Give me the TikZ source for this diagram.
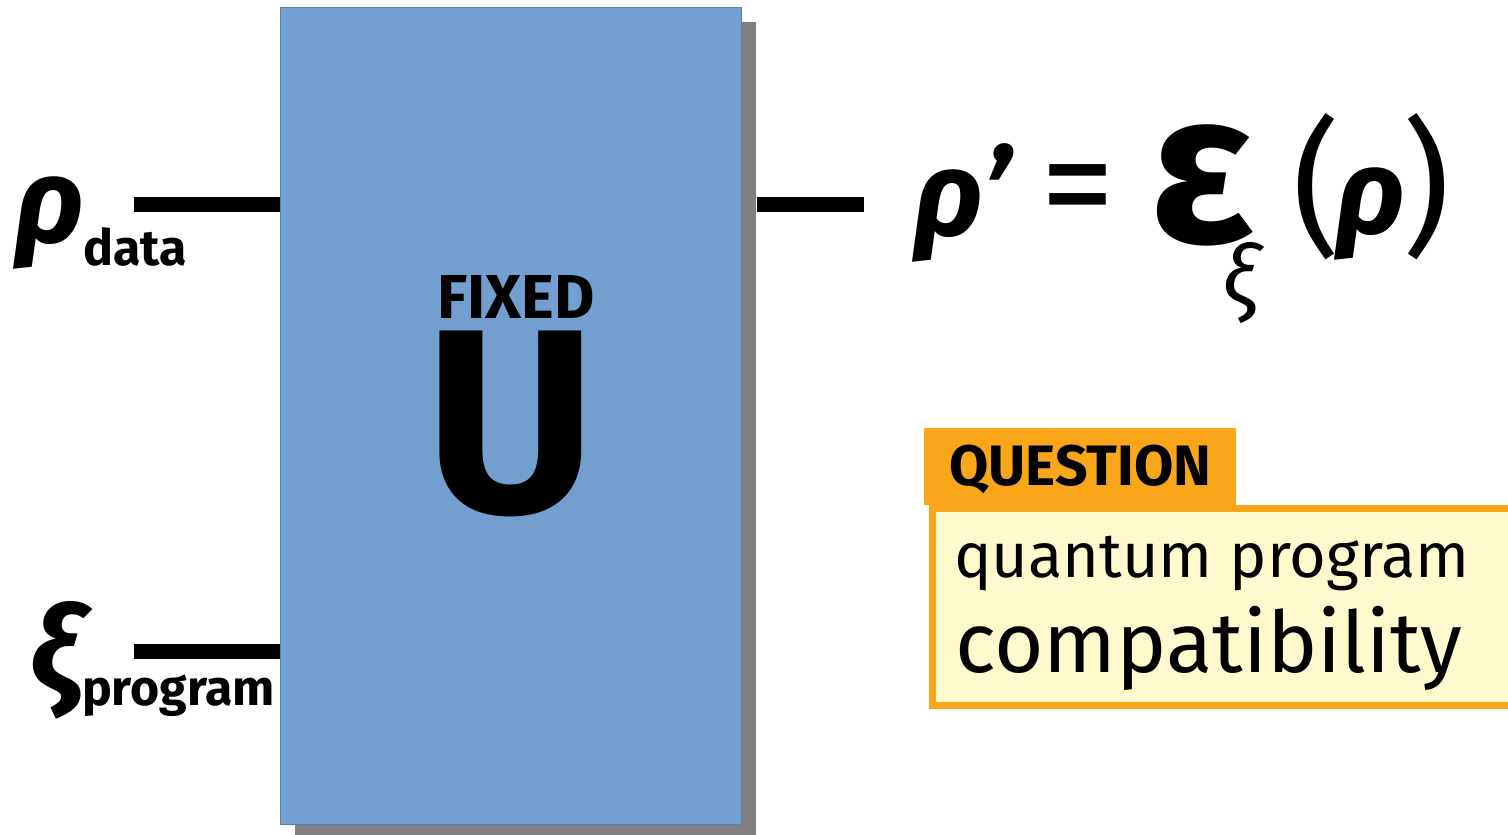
\documentclass[tikz,border=0pt]{standalone}
\usepackage{fontspec}
\setmainfont{Fira Sans}
\usetikzlibrary{positioning, shadows}

\definecolor{gateblue}{RGB}{114,159,207}
\definecolor{gateedge}{RGB}{79,129,189}
\definecolor{qorange}{RGB}{249,166,27}
\definecolor{qyellow}{RGB}{255,250,205}

\begin{document}
\begin{tikzpicture}[
        x=1pt, y=-1pt,
        gate/.style={draw=gateedge, line width=1pt, fill=gateblue, minimum width=461pt, minimum height=817pt, inner sep=0pt,
            drop shadow={shadow xshift=15pt, shadow yshift=-15pt, fill=black!50, opacity=1}},
        wire/.style={line width=15pt},
        glyph/.style={inner sep=0pt, outer sep=0pt},
        greek/.style={glyph, font=\fontsize{120}{140}\selectfont\bfseries\itshape},
        sublabel/.style={glyph, font=\fontsize{50}{58}\selectfont\bfseries},
        paren/.style={glyph, font=\fontsize{148}{160}\selectfont},
        qtab/.style={fill=qorange, minimum width=312pt, minimum height=77pt, inner sep=0pt, text height=39pt, text depth=0pt,
            font=\fontsize{57}{62}\selectfont\bfseries},
        qbody/.style={draw=qorange, line width=7pt, fill=qyellow, minimum width=591pt, minimum height=197pt, inner sep=0pt}
    ]
    \useasboundingbox (0,0) rectangle (1508,835);

    \node[gate] (U) at (510.5,415.5) {};
    \node[glyph, font=\fontsize{62}{68}\selectfont\bfseries, anchor=base] (fixed) at (516,318) {FIXED};
    \node[glyph, font=\fontsize{262}{280}\selectfont\bfseries, anchor=base] (bigU) at (511,512) {U};

    \node[greek, anchor=south west] (rhodata) at (16,269) {ρ};
    \node[sublabel, anchor=base west] (data) at (83,265) {data};
    \node[greek, anchor=south west] (xiprog) at (30,719) {ξ};
    \node[sublabel, anchor=base west] (program) at (82,705) {program};

    \coordinate (datain) at (134,204.5);
    \coordinate (progin) at (134,651);
    \coordinate (outstart) at (757,204.5);
    \coordinate (outend) at (864,204.5);
    \draw[wire] (datain) -- (datain -| U.west);
    \draw[wire] (progin) -- (progin -| U.west);
    \draw[wire] (outstart) -- (outend);

    \node[greek, anchor=south west] (rhoout) at (914,262) {ρ’};
    \node[glyph, font=\fontsize{150}{170}\selectfont, anchor=center] (eq) at (1078,199.5) {=};
    \node[glyph, font=\fontsize{215}{240}\selectfont\bfseries, anchor=north west] (eps) at (1150,125) {ε};
    \node[glyph, font=\fontsize{84}{90}\selectfont\itshape, anchor=north west] (xisub) at (1222,242) {ξ};
    \node[paren, anchor=north west] (lpar) at (1292,113) {(};
    \node[greek, anchor=south west] (rhoin) at (1336,260) {ρ};
    \node[paren, anchor=north east] (rpar) at (1450,113) {)};

    \node[qtab, anchor=south west] (qhead) at (924,505) {QUESTION};
    \node[qbody, anchor=north west] (qbox) at (929,505) {};
    \node[glyph, font=\fontsize{63}{70}\selectfont, anchor=base west] (qline) at (954,577) {quantum program};
    \node[glyph, font=\fontsize{85}{92}\selectfont, anchor=base west] (qword) at (955,672) {compatibility};

\end{tikzpicture}
\end{document}
